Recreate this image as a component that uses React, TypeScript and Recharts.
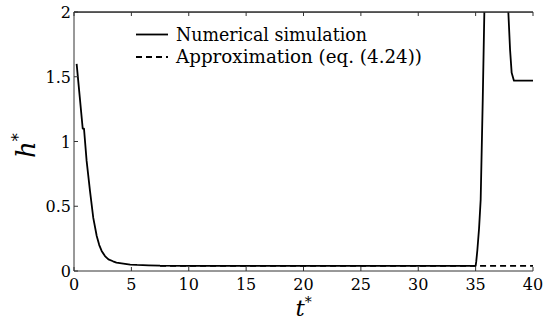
import React from 'react';
import { LineChart, Line, XAxis, YAxis, Legend, ReferenceLine } from 'recharts';

const tSim = [0.23, 0.5, 0.76, 0.87, 1.1, 1.39, 1.68, 1.98, 2.2, 2.41, 2.7, 3.0, 3.4, 3.7, 4.3, 4.9, 5.5, 6.5, 7.5, 10, 15, 20, 25, 30, 35.0, 35.05, 35.15, 35.3, 35.44, 35.62, 35.76, 35.9, 36.5, 37.2, 37.7, 37.85, 38.0, 38.14, 38.34, 40];
const hSim = [1.6, 1.345, 1.1, 1.1, 0.85, 0.62, 0.41, 0.27, 0.2, 0.155, 0.115, 0.09, 0.075, 0.065, 0.057, 0.05, 0.047, 0.044, 0.041, 0.04, 0.04, 0.04, 0.04, 0.04, 0.04, 0.07, 0.16, 0.33, 0.55, 1.32, 2.0, 2.8, 3.5, 3.2, 2.3, 2.0, 1.71, 1.53, 1.47, 1.47];
const tApprox = [7.5, 40];
const hApprox = [0.04, 0.04];
const xTicks = [0, 5, 10, 15, 20, 25, 30, 35, 40];
const yTicks = [0, 0.5, 1, 1.5, 2];
const seriesNames = ['Numerical simulation', 'Approximation (eq. (4.24))'];

const simData = tSim.map((t, i) => ({ t, h: hSim[i] }));
const approxData = tApprox.map((t, i) => ({ t, h: hApprox[i] }));

const FONT = 'DejaVu Serif';
const AXIS = '#333';
const TL = 4;
const PLOT_TOP = 12;
const PLOT_LEFT = 74;
const PLOT_RIGHT = 533;

const BottomTick = (p: any) => (
  <g>
    <line x1={p.x} y1={p.y} x2={p.x} y2={p.y - TL} stroke={AXIS} />
    <text x={p.x} y={p.y + 19} textAnchor="middle" fontFamily={FONT} fontSize={16} fill="#000">{String(p.payload.value)}</text>
  </g>
);
const LeftTick = (p: any) => (
  <g>
    <line x1={p.x} y1={p.y} x2={p.x + TL} y2={p.y} stroke={AXIS} />
    <text x={p.x - 3} y={p.y + 6} textAnchor="end" fontFamily={FONT} fontSize={16} fill="#000">{String(p.payload.value)}</text>
  </g>
);
const RightTick = (p: any) => (
  <line x1={p.x} y1={p.y} x2={p.x - TL} y2={p.y} stroke={AXIS} />
);

const XLabel = (p: any) => {
  const vb = p.viewBox || { x: 74, y: 271, width: 459, height: 51 };
  return (
    <text x={vb.x + vb.width / 2} y={vb.y + 45} textAnchor="middle" fontFamily={FONT} fill="#000">
      <tspan fontSize={23} fontStyle="italic">t</tspan>
      <tspan fontSize={14} dy={-9}>*</tspan>
    </text>
  );
};
const YLabel = (p: any) => {
  const vb = p.viewBox || { x: 0, y: 12, width: 74, height: 259 };
  const cx = 35;
  const cy = vb.y + vb.height / 2 + 4;
  return (
    <text x={cx} y={cy} textAnchor="middle" fontFamily={FONT} fill="#000" transform={`rotate(-90 ${cx} ${cy})`}>
      <tspan fontSize={26} fontStyle="italic">h</tspan>
      <tspan fontSize={16} dy={-11}>*</tspan>
    </text>
  );
};

const LegendBox = () => {
  const widths = [191, 246];
  const span = (PLOT_RIGHT - PLOT_LEFT) / (xTicks.length - 1);
  return (
    <svg width={547} height={80} style={{ display: 'block', overflow: 'visible' }}>
      <rect x={PLOT_LEFT} y={PLOT_TOP - 0.5} width={PLOT_RIGHT - PLOT_LEFT} height={1.2} fill={AXIS} />
      {xTicks.map((v, i) => (
        <rect key={v} x={PLOT_LEFT + i * span - 0.5} y={PLOT_TOP} width={1} height={TL} fill={AXIS} />
      ))}
      {seriesNames.map((n: string, i: number) => {
        const ly = 34.5 + i * 22.5;
        return (
          <g key={n}>
            <line x1={136} x2={168} y1={ly} y2={ly} stroke="#000" strokeWidth={1.8} strokeDasharray={i === 1 ? '6 4' : undefined} />
            <text x={176} y={ly + 6} fontFamily={FONT} fontSize={18} fill="#000" textLength={widths[i]} lengthAdjust="spacingAndGlyphs">{n}</text>
          </g>
        );
      })}
    </svg>
  );
};

export default function App() {
  return (
    <div style={{ position: 'absolute', left: 0, top: 0, background: '#fff' }}>
      <LineChart width={547} height={322} margin={{ top: PLOT_TOP, right: 14, bottom: 0, left: 0 }}>
        <XAxis xAxisId="b" dataKey="t" type="number" domain={[0, 40]} ticks={xTicks} interval={0} orientation="bottom" height={51} tickSize={0} tickMargin={0} tickLine={false} axisLine={{ stroke: AXIS }} tick={<BottomTick />} label={<XLabel />} allowDataOverflow />
        <YAxis yAxisId="l" type="number" domain={[0, 2]} ticks={yTicks} interval={0} orientation="left" width={74} tickSize={0} tickMargin={0} tickLine={false} axisLine={{ stroke: AXIS }} tick={<LeftTick />} label={<YLabel />} allowDataOverflow />
        <YAxis yAxisId="r" type="number" domain={[0, 2]} ticks={yTicks} interval={0} orientation="right" width={0} tickSize={0} tickMargin={0} tickLine={false} axisLine={{ stroke: AXIS }} tick={<RightTick />} allowDataOverflow />
        <ReferenceLine xAxisId="b" yAxisId="l" y={2} stroke={AXIS} strokeWidth={1.2} ifOverflow="visible" />
        <Legend layout="horizontal" verticalAlign="middle" align="center" content={<LegendBox />} wrapperStyle={{ position: 'absolute', top: 0, left: 0, width: 547, height: 80, pointerEvents: 'none' }} />
        <Line xAxisId="b" yAxisId="l" data={simData} dataKey="h" name={seriesNames[0]} type="linear" stroke="#000" strokeWidth={1.8} dot={false} isAnimationActive={false} strokeLinejoin="round" />
        <Line xAxisId="b" yAxisId="l" data={approxData} dataKey="h" name={seriesNames[1]} type="linear" stroke="#000" strokeWidth={1.8} strokeDasharray="6 4" dot={false} isAnimationActive={false} />
      </LineChart>
    </div>
  );
}
